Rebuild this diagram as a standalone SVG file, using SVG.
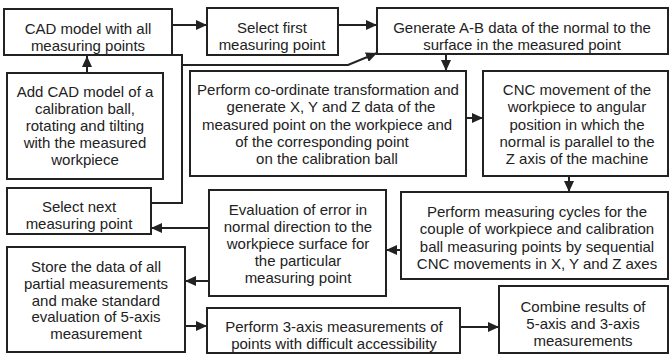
<svg xmlns="http://www.w3.org/2000/svg" width="670" height="354" viewBox="0 0 670 354">
  <style>
    .box { fill: #ffffff; stroke: #222222; stroke-width: 2; }
    .lbl { font-family: "Liberation Sans", Arial, sans-serif; font-size: 15px; fill: #222222; text-anchor: middle; }
    .wire { fill: none; stroke: #222222; stroke-width: 2; }
    .arrow { marker-end: url(#head); }
  </style>
  <defs>
    <marker id="head" markerUnits="userSpaceOnUse" markerWidth="12" markerHeight="10" refX="11" refY="5" orient="auto">
      <path d="M0,0 L11,5 L0,10 Z" fill="#222222"/>
    </marker>
  </defs>
  <rect width="670" height="354" fill="#ffffff"/>

  <!-- connectors -->
  <g id="connectors">
    <line class="wire arrow" x1="173" y1="25" x2="207" y2="25"/>
    <line class="wire arrow" x1="339" y1="25" x2="377" y2="25"/>
    <line class="wire arrow" x1="87" y1="73" x2="87" y2="56"/>
    <line class="wire arrow" x1="446" y1="55" x2="446" y2="71"/>
    <line class="wire arrow" x1="467" y1="118" x2="483" y2="118"/>
    <line class="wire arrow" x1="569" y1="177" x2="569" y2="192"/>
    <line class="wire arrow" x1="401" y1="250" x2="386" y2="250"/>
    <line class="wire arrow" x1="209" y1="228" x2="151" y2="228"/>
    <line class="wire arrow" x1="209" y1="281" x2="185" y2="281"/>
    <line class="wire arrow" x1="186" y1="326" x2="207" y2="326"/>
    <line class="wire arrow" x1="461" y1="327" x2="499" y2="327"/>
    <!-- loop back from "Select next measuring point" -->
    <polyline class="wire" points="152,203 182,203 182,55 172,55"/>
    <polyline class="wire arrow" points="182,65 348,65 377,53"/>
  </g>

  <g id="cad-model">
    <rect class="box" x="4" y="9" width="168" height="46"/>
    <text class="lbl" x="88" y="34">CAD model with all</text>
    <text class="lbl" x="88" y="51">measuring points</text>
  </g>

  <g id="select-first">
    <rect class="box" x="207" y="8" width="131" height="47"/>
    <text class="lbl" x="272" y="33">Select first</text>
    <text class="lbl" x="272" y="50">measuring point</text>
  </g>

  <g id="generate-ab">
    <rect class="box" x="377" y="8" width="291" height="46"/>
    <text class="lbl" x="522" y="33">Generate A-B data of the normal to the</text>
    <text class="lbl" x="522" y="50">surface in the measured point</text>
  </g>

  <g id="add-cad-ball">
    <rect class="box" x="7" y="73" width="156" height="106"/>
    <text class="lbl" x="85" y="97">Add CAD model of a</text>
    <text class="lbl" x="85" y="114">calibration ball,</text>
    <text class="lbl" x="85" y="131">rotating and tilting</text>
    <text class="lbl" x="85" y="148">with the measured</text>
    <text class="lbl" x="85" y="165">workpiece</text>
  </g>

  <g id="coordinate-transform">
    <rect class="box" x="190" y="71" width="276" height="105"/>
    <text class="lbl" x="328" y="95">Perform co-ordinate transformation and</text>
    <text class="lbl" x="331" y="112">generate X, Y and Z data of the</text>
    <text class="lbl" x="327" y="130">measured point on the workpiece and</text>
    <text class="lbl" x="322" y="147">of the corresponding point</text>
    <text class="lbl" x="327" y="164">on the calibration ball</text>
  </g>

  <g id="cnc-movement">
    <rect class="box" x="483" y="71" width="185" height="105"/>
    <text class="lbl" x="577" y="95">CNC movement of the</text>
    <text class="lbl" x="577" y="112">workpiece to angular</text>
    <text class="lbl" x="577" y="130">position in which the</text>
    <text class="lbl" x="577" y="147">normal is parallel to the</text>
    <text class="lbl" x="577" y="164">Z axis of the machine</text>
  </g>

  <g id="select-next">
    <rect class="box" x="7" y="188" width="144" height="46"/>
    <text class="lbl" x="79" y="212">Select next</text>
    <text class="lbl" x="79" y="229">measuring point</text>
  </g>

  <g id="evaluation">
    <rect class="box" x="209" y="190" width="177" height="106"/>
    <text class="lbl" x="298" y="215">Evaluation of error in</text>
    <text class="lbl" x="298" y="232">normal direction to the</text>
    <text class="lbl" x="298" y="249">workpiece surface for</text>
    <text class="lbl" x="298" y="266">the particular</text>
    <text class="lbl" x="298" y="283">measuring point</text>
  </g>

  <g id="measuring-cycles">
    <rect class="box" x="401" y="192" width="267" height="87"/>
    <text class="lbl" x="537" y="217">Perform measuring cycles for the</text>
    <text class="lbl" x="537" y="234">couple of workpiece and calibration</text>
    <text class="lbl" x="537" y="252">ball measuring points by sequential</text>
    <text class="lbl" x="537" y="269">CNC movements in X, Y and Z axes</text>
  </g>

  <g id="store-data">
    <rect class="box" x="7" y="247" width="178" height="105"/>
    <text class="lbl" x="96" y="272">Store the data of all</text>
    <text class="lbl" x="96" y="289">partial measurements</text>
    <text class="lbl" x="96" y="306">and make standard</text>
    <text class="lbl" x="96" y="322">evaluation of 5-axis</text>
    <text class="lbl" x="96" y="339">measurement</text>
  </g>

  <g id="three-axis">
    <rect class="box" x="207" y="308" width="253" height="45"/>
    <text class="lbl" x="334" y="332">Perform 3-axis measurements of</text>
    <text class="lbl" x="334" y="349">points with difficult accessibility</text>
  </g>

  <g id="combine">
    <rect class="box" x="499" y="286" width="169" height="67"/>
    <text class="lbl" x="583" y="312">Combine results of</text>
    <text class="lbl" x="583" y="329">5-axis and 3-axis</text>
    <text class="lbl" x="583" y="346">measurements</text>
  </g>
</svg>
